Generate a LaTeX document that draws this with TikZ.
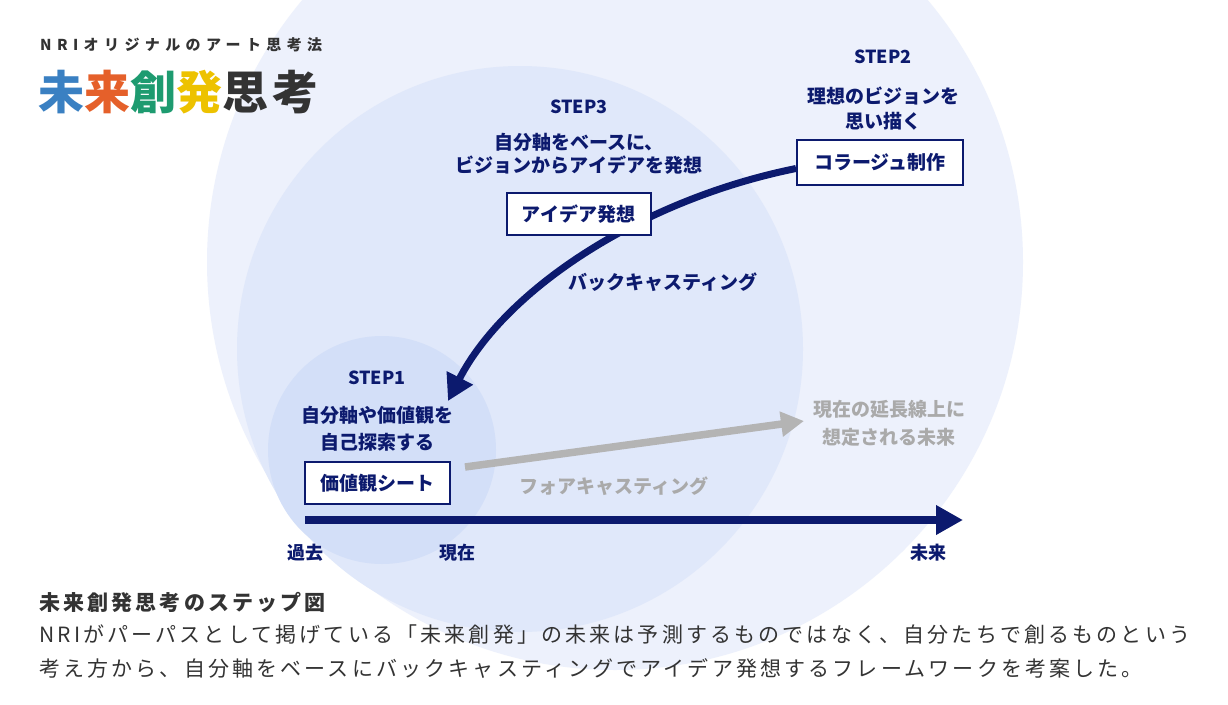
\documentclass[tikz,border=0pt]{standalone}
\usepackage{fontspec}
\setmainfont{Noto Sans CJK JP}
\newfontfamily\jpwide[LetterSpace=36]{Noto Sans CJK JP}
\newfontfamily\jpbig[LetterSpace=8.5]{Noto Sans CJK JP}
\newfontfamily\jpcap[LetterSpace=15]{Noto Sans CJK JP}
\usetikzlibrary{arrows.meta}
\definecolor{navy}{RGB}{12,26,110}
\definecolor{bigc}{RGB}{237,241,252}
\definecolor{midc}{RGB}{224,232,250}
\definecolor{smallc}{RGB}{211,223,248}
\definecolor{graytxt}{RGB}{170,170,170}
\definecolor{grayarr}{RGB}{180,180,180}
\definecolor{darktxt}{RGB}{51,51,51}
\definecolor{cblue}{RGB}{58,128,194}
\definecolor{corange}{RGB}{229,96,42}
\definecolor{cgreen}{RGB}{30,155,112}
\definecolor{cyellow}{RGB}{237,194,0}
\begin{document}
\begin{tikzpicture}[x=1pt,y=-1pt,
  lbl/.style={font=\fontsize{19}{25}\selectfont\bfseries, text=navy, align=center, inner sep=0pt},
  steplbl/.style={font=\fontsize{18}{20}\selectfont\bfseries, text=navy, inner sep=0pt},
  toolbox/.style={draw=navy, line width=2pt, fill=white, font=\fontsize{19}{22}\selectfont\bfseries, text=navy, minimum height=42pt, inner sep=0pt},
  graylbl/.style={font=\fontsize{19}{28}\selectfont\bfseries, text=graytxt, align=center, inner sep=0pt},
  axislbl/.style={font=\fontsize{18}{20}\selectfont\bfseries, text=navy, inner sep=0pt},
  captxt/.style={font=\fontsize{21}{24}\selectfont\jpcap, text=darktxt, anchor=west, inner sep=0pt}]
\useasboundingbox (0,0) rectangle (1228,704);
\clip (0,0) rectangle (1228,704);
\fill[white] (0,0) rectangle (1228,704);
% circles
\fill[bigc] (615,262) circle[radius=408pt];
\fill[midc] (520,349) circle[radius=283pt];
\fill[smallc] (382,450) circle[radius=114pt];
% title
\node[anchor=west, inner sep=0pt, font=\fontsize{15}{18}\selectfont\jpwide\bfseries, text=darktxt] (sub) at (40,45) {NRIオリジナルのアート思考法};
\node[anchor=west, inner sep=0pt, font=\fontsize{46}{50}\selectfont\jpbig\bfseries] (title) at (38,92) {\textcolor{cblue}{未}\textcolor{corange}{来}\textcolor{cgreen}{創}\textcolor{cyellow}{発}\textcolor{darktxt}{思考}};
% STEP2
\node[steplbl] (s2) at (883,57) {STEP2};
\node[lbl] (s2t) at (883,109) {理想のビジョンを\\思い描く};
\node[toolbox, minimum width=166pt, minimum height=45pt] (collage) at (880,162.5) {コラージュ制作};
% backcasting curve
\coordinate (bctip) at (448,401);
\draw[navy, line width=7pt, -{Triangle[length=26pt,width=28pt]}] ([yshift=-6pt]collage.west) .. controls (640,200) and (505,290) .. (bctip);
% STEP3
\node[steplbl] (s3) at (579,107) {STEP3};
\node[lbl, font=\fontsize{19}{22.5}\selectfont\bfseries] (s3t) at (579,154) {自分軸をベースに、\\ビジョンからアイデアを発想};
\node[toolbox, minimum width=144pt] (idea) at (578.5,214) {アイデア発想};
\node[lbl] (bc) at (663,282) {バックキャスティング};
% STEP1
\node[steplbl] (s1) at (377,378) {STEP1};
\node[lbl, font=\fontsize{19}{27}\selectfont\bfseries] (s1t) at (377,429) {自分軸や価値観を\\自己探索する};
\node[toolbox, minimum width=145pt] (sheet) at (377.5,483) {価値観シート};
% forecasting
\coordinate (fstart) at (465,467);
\coordinate (fend) at (804,421);
\draw[grayarr, line width=7.5pt, -{Triangle[length=23pt,width=24pt]}] (fstart) -- (fend);
\node[graylbl] (fut) at (889,423) {現在の延長線上に\\想定される未来};
\node[graylbl] (fc) at (614,486) {フォアキャスティング};
% time axis
\coordinate (axs) at (305,520);
\coordinate (axe) at (963,520);
\draw[navy, line width=8pt, -{Triangle[length=27pt,width=28pt]}] (axs) -- (axe);
\node[axislbl] (past) at (305,553) {過去};
\node[axislbl] (now) at (457,553) {現在};
\node[axislbl] (future) at (928,553) {未来};
% caption
\node[captxt, font=\fontsize{21}{24}\selectfont\jpcap\bfseries] (capt) at (39,602) {未来創発思考のステップ図};
\node[captxt] (cap1) at (39,635) {NRIがパーパスとして掲げている「未来創発」の未来は予測するものではなく、自分たちで創るものという};
\node[captxt] (cap2) at (39,668) {考え方から、自分軸をベースにバックキャスティングでアイデア発想するフレームワークを考案した。};
\end{tikzpicture}
\end{document}
